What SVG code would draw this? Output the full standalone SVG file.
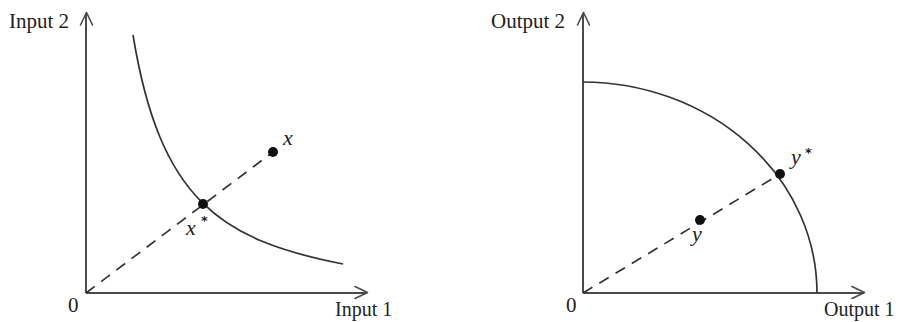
<svg xmlns="http://www.w3.org/2000/svg" width="905" height="322" viewBox="0 0 905 322">
<style>
.axis{stroke:#4a4a4a;stroke-width:2;fill:none}
.arr{stroke:#4a4a4a;stroke-width:1.6;fill:none;stroke-linecap:round;stroke-linejoin:round}
.curve{stroke:#333;stroke-width:1.7;fill:none}
.dash{stroke:#333;stroke-width:1.7;fill:none;stroke-dasharray:11 8}
.dot{fill:#111}
.t{font-family:"Liberation Serif","Times New Roman",serif;font-size:21px;fill:#222}
.b{font-family:"Liberation Serif","Times New Roman",serif;font-size:20px;fill:#222}
.i{font-family:"Liberation Serif","Times New Roman",serif;font-size:22px;font-style:italic;fill:#222}
.s{font-family:"DejaVu Sans",sans-serif;font-size:13px;font-weight:bold;fill:#222}
</style>
<rect width="905" height="322" fill="#fff"/>
<g id="left-panel">
  <g id="left-axes">
    <path class="axis" d="M86,293 V13 M86,293 H367"/>
    <path class="arr" d="M80.5,25 L86.5,12.5 L92.5,25"/>
    <path class="arr" d="M355,286.5 L367.5,292.5 L355,298.5"/>
    <text class="t" x="9" y="28">Input 2</text>
    <text class="t" x="68" y="312">0</text>
    <text class="b" x="335" y="316">Input 1</text>
  </g>
  <g id="isoquant">
    <path class="curve" d="M133,35 C160,200 220,240 343,264"/>
  </g>
  <g id="left-ray">
    <path class="dash" d="M86,293 L273,152"/>
  </g>
  <g id="point-x">
    <circle class="dot" cx="273" cy="152" r="5"/>
    <text class="i" x="283" y="145">x</text>
  </g>
  <g id="point-xstar">
    <circle class="dot" cx="203" cy="204" r="5"/>
    <text class="i" x="186" y="235">x</text>
    <text class="s" x="201" y="225">*</text>
  </g>
</g>
<g id="right-panel">
  <g id="right-axes">
    <path class="axis" d="M583,293 V13 M583,293 H864"/>
    <path class="arr" d="M577.5,25 L583.5,12.5 L589.5,25"/>
    <path class="arr" d="M852,286.5 L864.5,292.5 L852,298.5"/>
    <text class="t" x="491" y="28">Output 2</text>
    <text class="t" x="566" y="312">0</text>
    <text class="b" x="824" y="316">Output 1</text>
  </g>
  <g id="frontier">
    <path class="curve" d="M583,82 A235,211 0 0 1 817,293"/>
  </g>
  <g id="right-ray">
    <path class="dash" d="M583,293 L780,174"/>
  </g>
  <g id="point-y">
    <circle class="dot" cx="700" cy="220" r="5"/>
    <text class="i" x="692" y="241">y</text>
  </g>
  <g id="point-ystar">
    <circle class="dot" cx="780" cy="174" r="5"/>
    <text class="i" x="791" y="164">y</text>
    <text class="s" x="805" y="157">*</text>
  </g>
</g>
</svg>
